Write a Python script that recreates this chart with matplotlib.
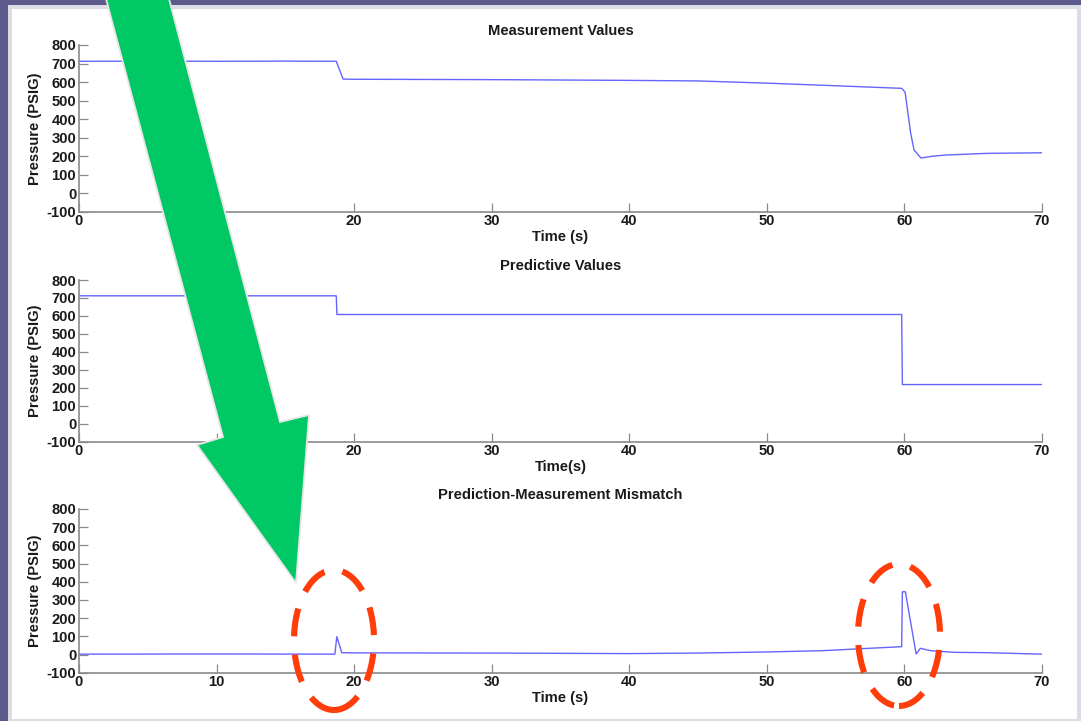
import matplotlib
matplotlib.use("Agg")
import matplotlib.pyplot as plt
from matplotlib.patches import Rectangle, Polygon, Ellipse

# ---------------- data ----------------
meas_t = [0, 5, 10, 15, 18.7, 19.2, 20, 30, 40, 45, 50, 55, 59.8, 60.05, 60.45, 60.7, 61.2, 62, 63, 66, 70]
meas_v = [712, 713, 712, 713, 712, 616, 615, 613, 609, 606, 594, 580, 566, 545, 325, 233, 190, 199, 206, 215, 218]

pred_t = [0, 18.7, 18.75, 59.8, 59.85, 70]
pred_v = [712, 712, 608, 608, 218, 218]

mism_t = [0, 10, 18.6, 18.74, 19.1, 20, 30, 40, 45, 50, 54, 59.8, 59.85, 60.07, 60.85, 61.16, 61.9, 63.6, 66, 70]
mism_v = [2, 3, 2, 98, 10, 9, 8, 5, 8, 14, 21, 43, 345, 345, 3, 34, 21, 12, 10, 2]

titles = ["Measurement Values", "Predictive Values", "Prediction-Measurement Mismatch"]
xlabels = ["Time (s)", "Time(s)", "Time (s)"]
ylabel = "Pressure (PSIG)"
xticks = [0, 10, 20, 30, 40, 50, 60, 70]
yticks = [-100, 0, 100, 200, 300, 400, 500, 600, 700, 800]

# ---------------- figure ----------------
W, H = 1081, 721
plt.rcParams['font.family'] = ['Liberation Sans', 'DejaVu Sans']
plt.rcParams['axes.unicode_minus'] = False
fig = plt.figure(figsize=(W / 100, H / 100), dpi=100)
fig.patch.set_facecolor('#5b5a8a')


def fx(x):
    return x / W


def fy(y):
    return 1 - y / H


# slide panel
fig.add_artist(Rectangle((fx(8), fy(721)), fx(1081) - fx(8), fy(5) - fy(721),
                         transform=fig.transFigure, facecolor='#dcdce4', edgecolor='none', zorder=-3))
fig.add_artist(Rectangle((fx(12), fy(719)), fx(1077) - fx(12), fy(9) - fy(719),
                         transform=fig.transFigure, facecolor='white', edgecolor='none', zorder=-2))

# axes boxes (pixel: left, right, top, bottom)
boxes = [(79, 1042, 45, 211.7), (79, 1042, 280, 441.7), (79, 1042, 509, 672.7)]
series = [(meas_t, meas_v), (pred_t, pred_v), (mism_t, mism_v)]

fs = 10.6
for (l, r, t, b), (xs, ys), title, xl in zip(boxes, series, titles, xlabels):
    ax = fig.add_axes([fx(l), fy(b), fx(r) - fx(l), fy(t) - fy(b)])
    ax.patch.set_alpha(0)
    ax.plot(xs, ys, color='#6464ff', lw=1.0)
    ax.set_xlim(0, 70)
    ax.set_ylim(-100, 800)
    ax.set_xticks(xticks)
    ax.set_yticks(yticks)
    for s in ['top', 'right']:
        ax.spines[s].set_visible(False)
    for s in ['left', 'bottom']:
        ax.spines[s].set_color('#8a8a8a')
        ax.spines[s].set_linewidth(1.2)
    ax.tick_params(direction='in', length=6.5, width=0.9, color='#8a8a8a',
                   labelsize=fs, labelcolor='#1a1a1a', pad=2)
    for lab in ax.get_xticklabels() + ax.get_yticklabels():
        lab.set_fontweight('bold')
    ax.set_title(title, fontsize=fs, fontweight='bold', color='#1a1a1a', pad=7)
    ax.set_xlabel(xl, fontsize=fs, fontweight='bold', color='#1a1a1a', labelpad=1)
    ax.set_ylabel(ylabel, fontsize=fs, fontweight='bold', color='#1a1a1a')
    ax.yaxis.set_label_coords(-0.038, 0.5)

# green arrow
arrow_px = [(105, -5), (168, -5), (280, 422), (309, 415), (296, 583),
            (197, 445), (223, 437)]
fig.add_artist(Polygon([(fx(x), fy(y)) for x, y in arrow_px], closed=True,
                       transform=fig.transFigure, facecolor='#00c864',
                       edgecolor='#e6e6e6', linewidth=1.3, zorder=5))

# red dashed ellipses
for cx, cy, w, h in [(334, 640, 80, 140), (899, 635, 82, 142)]:
    fig.add_artist(Ellipse((fx(cx), fy(cy)), fx(w), h / H, transform=fig.transFigure,
                           facecolor='none', edgecolor='#ff3d0a', linewidth=4.4,
                           linestyle=(0, (4.6, 3.0)), zorder=6))

fig.savefig('out.png', dpi=100, facecolor=fig.get_facecolor())
